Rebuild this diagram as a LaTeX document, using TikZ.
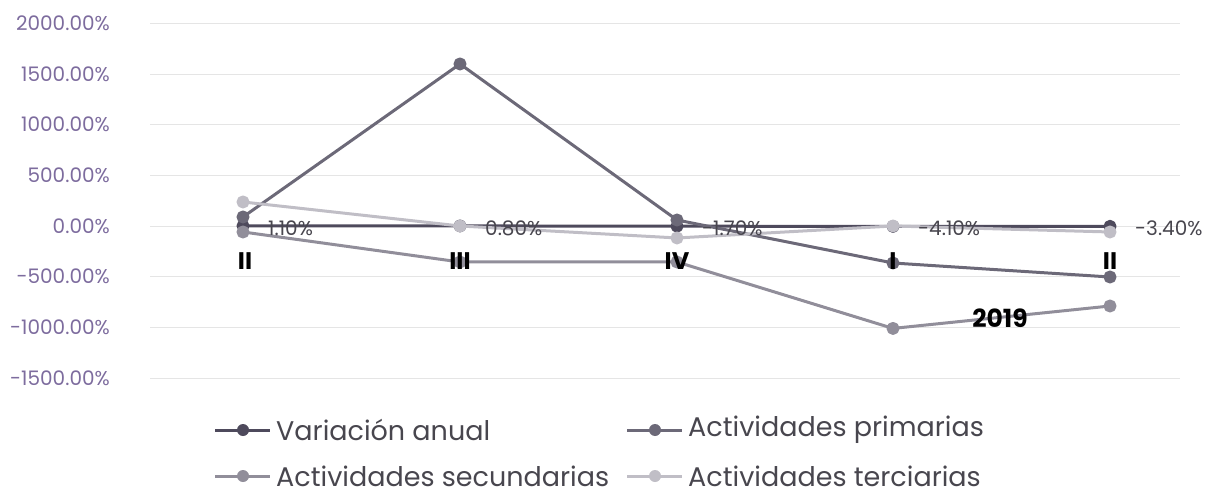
\documentclass[tikz,border=0pt]{standalone}
\usepackage{fontspec}
\setmainfont{Poppins}[Numbers=Monospaced]
\definecolor{ticktext}{RGB}{125,108,158}
\definecolor{anual}{RGB}{78,74,92}
\definecolor{prim}{RGB}{108,105,120}
\definecolor{secu}{RGB}{145,142,154}
\definecolor{terc}{RGB}{192,190,198}
\definecolor{labeltext}{RGB}{72,70,78}
\begin{document}
\begin{tikzpicture}[x=1pt,y=1pt,
  serie/.style={line width=3pt,line join=round,mark=*,mark size=5pt},
  legline/.style={line width=3pt},
  ticklabel/.style={anchor=east,text=ticktext,inner sep=0pt,font=\fontsize{20}{20}\selectfont},
  cat/.style={inner sep=0pt,font=\fontsize{24}{24}\selectfont\bfseries},
  datalabel/.style={anchor=west,text=labeltext,inner sep=0pt,font=\fontsize{20}{20}\selectfont},
  legendtext/.style={anchor=west,text=labeltext,inner sep=0pt,font=\fontsize{27}{27}\selectfont}]
  \useasboundingbox (0,0) rectangle (1214,496);
  % value axis and grid
  \foreach \v in {2000,1500,1000,500,0,-500,-1000,-1500}{
    \draw[black!10,line width=0.8pt] (150,270+\v*0.1014) -- (1180,270+\v*0.1014);
    \node[ticklabel] (tick\v) at (110,270+\v*0.1014) {\v.00\%};
  }
  \begin{scope}[yshift=270pt,y=0.1014pt]
    \draw[serie,anual] plot coordinates {(243,1.1) (460,0.8) (677,-1.7) (893,-4.1) (1110,-3.4)};
    \draw[serie,prim] plot coordinates {(243,89) (460,1598) (677,59) (893,-365) (1110,-503)};
    \draw[serie,secu] plot coordinates {(243,-59) (460,-355) (677,-355) (893,-1010) (1110,-789)};
    \draw[serie,terc] plot coordinates {(243,237) (460,0) (677,-118) (893,0) (1110,-59)};
    % labels of the yearly variation
    \foreach \px/\v/\t in {243/1.1/1.10,460/0.8/0.80,677/-1.7/-1.70,893/-4.1/-4.10,1110/-3.4/-3.40}
      \node[datalabel] (lab\px) at ([xshift=25pt,yshift=-2pt]\px,\v) {\t\%};
  \end{scope}
  % categories
  \foreach \px/\t in {245/II,460/III,677/IV,893/I,1110/II}
    \node[cat] (cat\px) at (\px,235) {\t};
  \node[cat,font=\fontsize{25}{25}\selectfont\bfseries] (year) at (1000,178) {2019};
  % legend
  \foreach \lx/\ly/\c/\t in {215/66/anual/Variación anual,627/66/prim/Actividades primarias,
                             215/20/secu/Actividades secundarias,627/20/terc/Actividades terciarias}{
    \draw[legline,\c] (\lx,\ly) -- (\lx+55,\ly);
    \fill[\c] (\lx+28,\ly) circle (6pt);
    \node[legendtext] (leg\c) at (\lx+61,\ly) {\t};
  }
\end{tikzpicture}
\end{document}
